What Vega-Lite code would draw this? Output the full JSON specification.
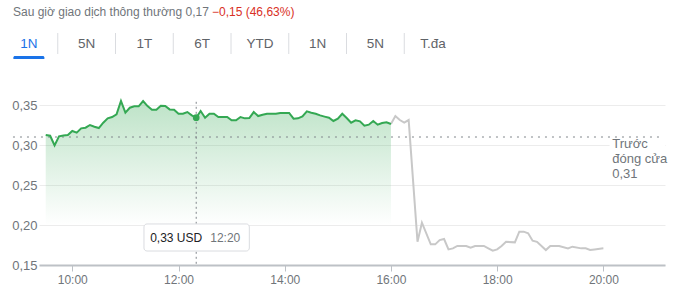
{
  "$schema": "https://vega.github.io/schema/vega-lite/v6.json",
  "padding": 0,
  "background": "white",
  "spacing": 38,
  "config": {
    "view": {"stroke": null},
    "font": "Liberation Sans",
    "text": {"font": "Liberation Sans"},
    "axis": {"labelFont": "Liberation Sans"}
  },
  "datasets": {
    "tabs": [
      {"key": "a", "label": "1N"},
      {"key": "b", "label": "5N"},
      {"key": "c", "label": "1T"},
      {"key": "d", "label": "6T"},
      {"key": "e", "label": "YTD"},
      {"key": "f", "label": "1N"},
      {"key": "g", "label": "5N"},
      {"key": "h", "label": "T.đa"}
    ],
    "regular": [
      {"t": "2024-05-01T09:30", "p": 0.3125},
      {"t": "2024-05-01T09:35", "p": 0.3116},
      {"t": "2024-05-01T09:40", "p": 0.2995},
      {"t": "2024-05-01T09:45", "p": 0.3108},
      {"t": "2024-05-01T09:50", "p": 0.312},
      {"t": "2024-05-01T09:55", "p": 0.3125},
      {"t": "2024-05-01T10:00", "p": 0.3175},
      {"t": "2024-05-01T10:05", "p": 0.3154},
      {"t": "2024-05-01T10:10", "p": 0.3208},
      {"t": "2024-05-01T10:15", "p": 0.3216},
      {"t": "2024-05-01T10:20", "p": 0.325},
      {"t": "2024-05-01T10:25", "p": 0.3229},
      {"t": "2024-05-01T10:30", "p": 0.3212},
      {"t": "2024-05-01T10:35", "p": 0.3279},
      {"t": "2024-05-01T10:40", "p": 0.3333},
      {"t": "2024-05-01T10:45", "p": 0.335},
      {"t": "2024-05-01T10:50", "p": 0.3383},
      {"t": "2024-05-01T10:55", "p": 0.355},
      {"t": "2024-05-01T11:00", "p": 0.3404},
      {"t": "2024-05-01T11:05", "p": 0.3466},
      {"t": "2024-05-01T11:10", "p": 0.3483},
      {"t": "2024-05-01T11:15", "p": 0.3483},
      {"t": "2024-05-01T11:20", "p": 0.355},
      {"t": "2024-05-01T11:25", "p": 0.3487},
      {"t": "2024-05-01T11:30", "p": 0.3441},
      {"t": "2024-05-01T11:35", "p": 0.3441},
      {"t": "2024-05-01T11:40", "p": 0.3491},
      {"t": "2024-05-01T11:45", "p": 0.3487},
      {"t": "2024-05-01T11:50", "p": 0.3445},
      {"t": "2024-05-01T11:55", "p": 0.3441},
      {"t": "2024-05-01T12:00", "p": 0.3391},
      {"t": "2024-05-01T12:05", "p": 0.3391},
      {"t": "2024-05-01T12:10", "p": 0.3412},
      {"t": "2024-05-01T12:15", "p": 0.337},
      {"t": "2024-05-01T12:20", "p": 0.3341},
      {"t": "2024-05-01T12:25", "p": 0.3425},
      {"t": "2024-05-01T12:30", "p": 0.3341},
      {"t": "2024-05-01T12:35", "p": 0.3391},
      {"t": "2024-05-01T12:40", "p": 0.3391},
      {"t": "2024-05-01T12:45", "p": 0.335},
      {"t": "2024-05-01T12:50", "p": 0.335},
      {"t": "2024-05-01T12:55", "p": 0.335},
      {"t": "2024-05-01T13:00", "p": 0.3308},
      {"t": "2024-05-01T13:05", "p": 0.3308},
      {"t": "2024-05-01T13:10", "p": 0.335},
      {"t": "2024-05-01T13:15", "p": 0.3333},
      {"t": "2024-05-01T13:20", "p": 0.3337},
      {"t": "2024-05-01T13:25", "p": 0.3412},
      {"t": "2024-05-01T13:30", "p": 0.3362},
      {"t": "2024-05-01T13:35", "p": 0.3379},
      {"t": "2024-05-01T13:40", "p": 0.3391},
      {"t": "2024-05-01T13:45", "p": 0.3391},
      {"t": "2024-05-01T13:50", "p": 0.3391},
      {"t": "2024-05-01T13:55", "p": 0.34},
      {"t": "2024-05-01T14:00", "p": 0.34},
      {"t": "2024-05-01T14:05", "p": 0.34},
      {"t": "2024-05-01T14:10", "p": 0.3329},
      {"t": "2024-05-01T14:15", "p": 0.3333},
      {"t": "2024-05-01T14:20", "p": 0.3358},
      {"t": "2024-05-01T14:25", "p": 0.342},
      {"t": "2024-05-01T14:30", "p": 0.3404},
      {"t": "2024-05-01T14:35", "p": 0.3391},
      {"t": "2024-05-01T14:40", "p": 0.337},
      {"t": "2024-05-01T14:45", "p": 0.3355},
      {"t": "2024-05-01T14:50", "p": 0.3341},
      {"t": "2024-05-01T14:55", "p": 0.33},
      {"t": "2024-05-01T15:00", "p": 0.3329},
      {"t": "2024-05-01T15:05", "p": 0.3391},
      {"t": "2024-05-01T15:10", "p": 0.3337},
      {"t": "2024-05-01T15:15", "p": 0.3279},
      {"t": "2024-05-01T15:20", "p": 0.3308},
      {"t": "2024-05-01T15:25", "p": 0.3295},
      {"t": "2024-05-01T15:30", "p": 0.3241},
      {"t": "2024-05-01T15:35", "p": 0.3254},
      {"t": "2024-05-01T15:40", "p": 0.33},
      {"t": "2024-05-01T15:45", "p": 0.3254},
      {"t": "2024-05-01T15:50", "p": 0.3275},
      {"t": "2024-05-01T15:55", "p": 0.3283},
      {"t": "2024-05-01T16:00", "p": 0.3262}
    ],
    "after": [
      {"t": "2024-05-01T16:00", "p": 0.3262},
      {"t": "2024-05-01T16:05", "p": 0.3362},
      {"t": "2024-05-01T16:10", "p": 0.3312},
      {"t": "2024-05-01T16:15", "p": 0.3279},
      {"t": "2024-05-01T16:20", "p": 0.3312},
      {"t": "2024-05-01T16:30", "p": 0.179},
      {"t": "2024-05-01T16:35", "p": 0.2029},
      {"t": "2024-05-01T16:45", "p": 0.1758},
      {"t": "2024-05-01T16:50", "p": 0.1758},
      {"t": "2024-05-01T16:55", "p": 0.1812},
      {"t": "2024-05-01T17:00", "p": 0.1825},
      {"t": "2024-05-01T17:05", "p": 0.1695},
      {"t": "2024-05-01T17:10", "p": 0.1708},
      {"t": "2024-05-01T17:15", "p": 0.1738},
      {"t": "2024-05-01T17:25", "p": 0.1738},
      {"t": "2024-05-01T17:30", "p": 0.1716},
      {"t": "2024-05-01T17:35", "p": 0.1738},
      {"t": "2024-05-01T17:45", "p": 0.1738},
      {"t": "2024-05-01T17:50", "p": 0.1708},
      {"t": "2024-05-01T17:55", "p": 0.1679},
      {"t": "2024-05-01T18:00", "p": 0.1695},
      {"t": "2024-05-01T18:05", "p": 0.1738},
      {"t": "2024-05-01T18:10", "p": 0.179},
      {"t": "2024-05-01T18:20", "p": 0.1783},
      {"t": "2024-05-01T18:25", "p": 0.1917},
      {"t": "2024-05-01T18:30", "p": 0.1917},
      {"t": "2024-05-01T18:35", "p": 0.1896},
      {"t": "2024-05-01T18:40", "p": 0.1804},
      {"t": "2024-05-01T18:45", "p": 0.179},
      {"t": "2024-05-01T18:55", "p": 0.1687},
      {"t": "2024-05-01T19:00", "p": 0.1738},
      {"t": "2024-05-01T19:10", "p": 0.1738},
      {"t": "2024-05-01T19:20", "p": 0.1708},
      {"t": "2024-05-01T19:25", "p": 0.1729},
      {"t": "2024-05-01T19:35", "p": 0.1708},
      {"t": "2024-05-01T19:40", "p": 0.1708},
      {"t": "2024-05-01T19:45", "p": 0.1687},
      {"t": "2024-05-01T19:50", "p": 0.1695},
      {"t": "2024-05-01T20:00", "p": 0.1708}
    ],
    "hover": [
      {"t": "2024-05-01T12:20", "p": 0.3341, "price": "0,33 USD", "clock": "12:20"}
    ],
    "prevClose": [
      {"p": 0.31, "label": "Trước\nđóng cửa\n0,31"}
    ]
  },
  "vconcat": [
    {
      "spacing": 8,
      "vconcat": [
        {
          "width": 26,
          "height": 24,
          "data": {"values": [
            {"part": "base", "text": "Sau giờ giao dịch thông thường 0,17"},
            {"part": "change", "text": "−0,15 (46,63%)"}
          ]},
          "layer": [
            {
              "transform": [{"filter": "datum.part === 'base'"}],
              "mark": {"type": "text", "align": "left", "baseline": "middle", "fontSize": 12, "color": "#70757a", "dx": -39},
              "encoding": {"text": {"field": "text"}}
            },
            {
              "transform": [{"filter": "datum.part === 'change'"}],
              "mark": {"type": "text", "align": "left", "baseline": "middle", "fontSize": 12, "color": "#d93025", "dx": 160},
              "encoding": {"text": {"field": "text"}}
            }
          ]
        },
        {
          "spacing": 1,
          "vconcat": [
            {
              "width": 462,
              "height": 21,
              "data": {"name": "tabs"},
              "layer": [
                {
                  "transform": [{"filter": "datum.key !== 'h'"}],
                  "mark": {"type": "rule", "color": "#dadce0", "strokeWidth": 1},
                  "encoding": {
                    "x": {"field": "key", "type": "nominal", "sort": null, "bandPosition": 1,
                          "scale": {"type": "band", "domain": ["a","b","c","d","e","f","g","h"], "range": [-39, 423], "paddingInner": 0, "paddingOuter": 0}, "axis": null}
                  }
                },
                {
                  "mark": {"type": "text", "fontSize": 13.5, "baseline": "middle"},
                  "encoding": {
                    "x": {"field": "key", "type": "nominal", "sort": null, "bandPosition": 0.5,
                          "scale": {"type": "band", "domain": ["a","b","c","d","e","f","g","h"], "range": [-39, 423], "paddingInner": 0, "paddingOuter": 0}, "axis": null},
                    "text": {"field": "label"},
                    "color": {"condition": {"test": "datum.key === 'a'", "value": "#1a73e8"}, "value": "#5f6368"}
                  }
                }
              ]
            },
            {
              "width": 462,
              "height": 3,
              "data": {"name": "tabs"},
              "transform": [{"filter": "datum.key === 'a'"}],
              "mark": {"type": "bar", "width": 31, "color": "#1a73e8", "cornerRadiusTopLeft": 3, "cornerRadiusTopRight": 3},
              "encoding": {
                "x": {"field": "key", "type": "nominal", "sort": null,
                      "scale": {"type": "band", "domain": ["a","b","c","d","e","f","g","h"], "range": [-39, 423], "paddingInner": 0, "paddingOuter": 0}, "axis": null}
              }
            }
          ]
        }
      ]
    },
    {
      "width": 626,
      "height": 168,
      "layer": [
        {
          "data": {"name": "regular"},
          "mark": {
            "type": "area", "line": false,
            "color": {
              "gradient": "linear", "x1": 1, "y1": 1, "x2": 1, "y2": 0,
              "stops": [
                {"offset": 0, "color": "rgba(52,168,83,0)"},
                {"offset": 1, "color": "rgba(52,168,83,0.32)"}
              ]
            }
          },
          "encoding": {
            "x": {
              "field": "t", "type": "temporal",
              "scale": {"domain": [
                {"year": 2024, "month": 5, "date": 1, "hours": 9, "minutes": 22, "seconds": 24},
                {"year": 2024, "month": 5, "date": 1, "hours": 21, "minutes": 9, "seconds": 36}
              ]},
              "axis": {
                "title": null, "format": "%H:%M",
                "values": [
                  {"year": 2024, "month": 5, "date": 1, "hours": 10},
                  {"year": 2024, "month": 5, "date": 1, "hours": 12},
                  {"year": 2024, "month": 5, "date": 1, "hours": 14},
                  {"year": 2024, "month": 5, "date": 1, "hours": 16},
                  {"year": 2024, "month": 5, "date": 1, "hours": 18},
                  {"year": 2024, "month": 5, "date": 1, "hours": 20}
                ],
                "grid": false, "domainColor": "#bdc1c6", "domainWidth": 2,
                "tickColor": "#bdc1c6", "tickSize": 6, "labelColor": "#70757a",
                "labelFontSize": 12, "labelPadding": 3
              }
            },
            "y": {
              "field": "p", "type": "quantitative",
              "scale": {"domain": [0.15, 0.36], "zero": false, "nice": false},
              "axis": {
                "title": null, "values": [0.15, 0.2, 0.25, 0.3, 0.35],
                "labelExpr": "replace(format(datum.value, '.2f'), '.', ',')",
                "domain": false, "ticks": false, "grid": true, "gridColor": "#ececec",
                "labelColor": "#70757a", "labelFontSize": 13, "labelPadding": 2, "minExtent": 39
              }
            },
            "y2": {"datum": 0.2}
          }
        },
        {
          "data": {"name": "prevClose"},
          "mark": {"type": "rect", "color": "white"},
          "encoding": {
            "x": {"datum": {"year": 2024, "month": 5, "date": 1, "hours": 20, "minutes": 7}, "type": "temporal"},
            "x2": {"datum": {"year": 2024, "month": 5, "date": 1, "hours": 21, "minutes": 9, "seconds": 36}},
            "y": {"datum": 0.3025, "type": "quantitative"},
            "y2": {"datum": 0.278}
          }
        },
        {
          "data": {"name": "prevClose"},
          "mark": {"type": "rule", "color": "#80868b", "strokeDash": [2, 5], "strokeWidth": 1},
          "encoding": {
            "x": {"datum": {"year": 2024, "month": 5, "date": 1, "hours": 8, "minutes": 53}, "type": "temporal"},
            "x2": {"datum": {"year": 2024, "month": 5, "date": 1, "hours": 21, "minutes": 7}},
            "y": {"field": "p", "type": "quantitative"}
          }
        },
        {
          "data": {"name": "hover"},
          "mark": {"type": "rule", "color": "#80868b", "strokeDash": [2, 3], "strokeWidth": 1},
          "encoding": {
            "x": {"field": "t", "type": "temporal"},
            "y": {"datum": 0.354, "type": "quantitative"},
            "y2": {"datum": 0.15}
          }
        },
        {
          "data": {"name": "after"},
          "mark": {"type": "line", "color": "#c8c8c8", "strokeWidth": 2},
          "encoding": {
            "x": {"field": "t", "type": "temporal"},
            "y": {"field": "p", "type": "quantitative"}
          }
        },
        {
          "data": {"name": "regular"},
          "mark": {"type": "line", "color": "#34a853", "strokeWidth": 2},
          "encoding": {
            "x": {"field": "t", "type": "temporal"},
            "y": {"field": "p", "type": "quantitative"}
          }
        },
        {
          "data": {"name": "hover"},
          "mark": {"type": "point", "filled": true, "size": 45, "color": "#34a853", "opacity": 1},
          "encoding": {
            "x": {"field": "t", "type": "temporal"},
            "y": {"field": "p", "type": "quantitative"}
          }
        },
        {
          "data": {"name": "hover"},
          "mark": {"type": "rect", "fill": "white", "stroke": "#dadce0", "strokeWidth": 1, "cornerRadius": 3},
          "encoding": {
            "x": {"datum": {"year": 2024, "month": 5, "date": 1, "hours": 11, "minutes": 21}, "type": "temporal"},
            "x2": {"datum": {"year": 2024, "month": 5, "date": 1, "hours": 13, "minutes": 20}},
            "y": {"datum": 0.2013, "type": "quantitative"},
            "y2": {"datum": 0.1675}
          }
        },
        {
          "data": {"name": "hover"},
          "mark": {"type": "text", "align": "right", "baseline": "middle", "dx": 6, "fontSize": 12, "color": "#202124"},
          "encoding": {
            "x": {"field": "t", "type": "temporal"},
            "y": {"datum": 0.184, "type": "quantitative"},
            "text": {"field": "price"}
          }
        },
        {
          "data": {"name": "hover"},
          "mark": {"type": "text", "align": "left", "baseline": "middle", "dx": 14, "fontSize": 12, "color": "#70757a"},
          "encoding": {
            "x": {"field": "t", "type": "temporal"},
            "y": {"datum": 0.184, "type": "quantitative"},
            "text": {"field": "clock"}
          }
        },
        {
          "data": {"name": "prevClose"},
          "mark": {"type": "text", "align": "left", "baseline": "top", "dy": 1, "fontSize": 13, "lineHeight": 15, "lineBreak": "\n", "color": "#70757a"},
          "encoding": {
            "x": {"datum": {"year": 2024, "month": 5, "date": 1, "hours": 20, "minutes": 10}, "type": "temporal"},
            "y": {"field": "p", "type": "quantitative"},
            "text": {"field": "label"}
          }
        }
      ]
    }
  ]
}
